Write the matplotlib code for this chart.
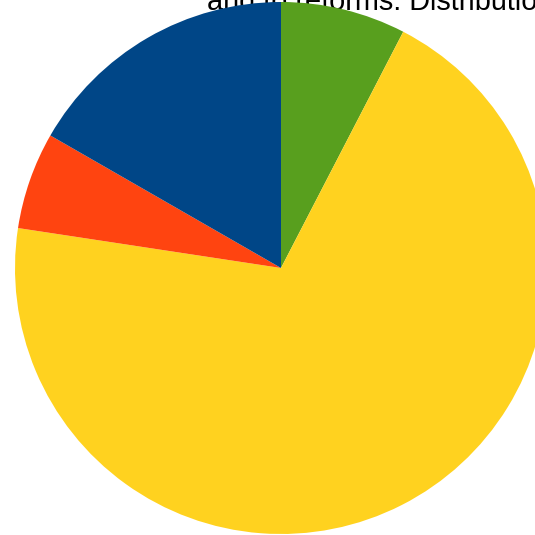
import matplotlib
matplotlib.use('Agg')
import matplotlib.pyplot as plt

# slice shares in percent, clockwise from 12 o'clock
labels = ['Green', 'Yellow', 'Red', 'Blue']
shares = [7.6, 69.8, 5.9, 16.7]
colors = ['#589f1e', '#ffd21f', '#ff4410', '#004687']

title = 'and to reforms: Distribution of responses'

plt.rcParams['font.family'] = ['Liberation Sans', 'DejaVu Sans']

W = H = 535
fig = plt.figure(figsize=(W / 100, H / 100), dpi=100)
ax = fig.add_axes([0, 0, 1, 1])
ax.set_xlim(0, W)
ax.set_ylim(0, H)
ax.set_aspect('equal')
ax.axis('off')

# title line sits partly above the canvas, behind the pie
ax.text(207, H - 10, title, fontsize=20.8, ha='left', va='baseline',
        color='black', zorder=1)

ax.pie(shares, colors=colors, startangle=90, counterclock=False,
       center=(281, H - 268), radius=266, frame=True,
       wedgeprops=dict(linewidth=0, zorder=2))
ax.set_xlim(0, W)
ax.set_ylim(0, H)
ax.axis('off')

fig.savefig('out.png', dpi=100)
